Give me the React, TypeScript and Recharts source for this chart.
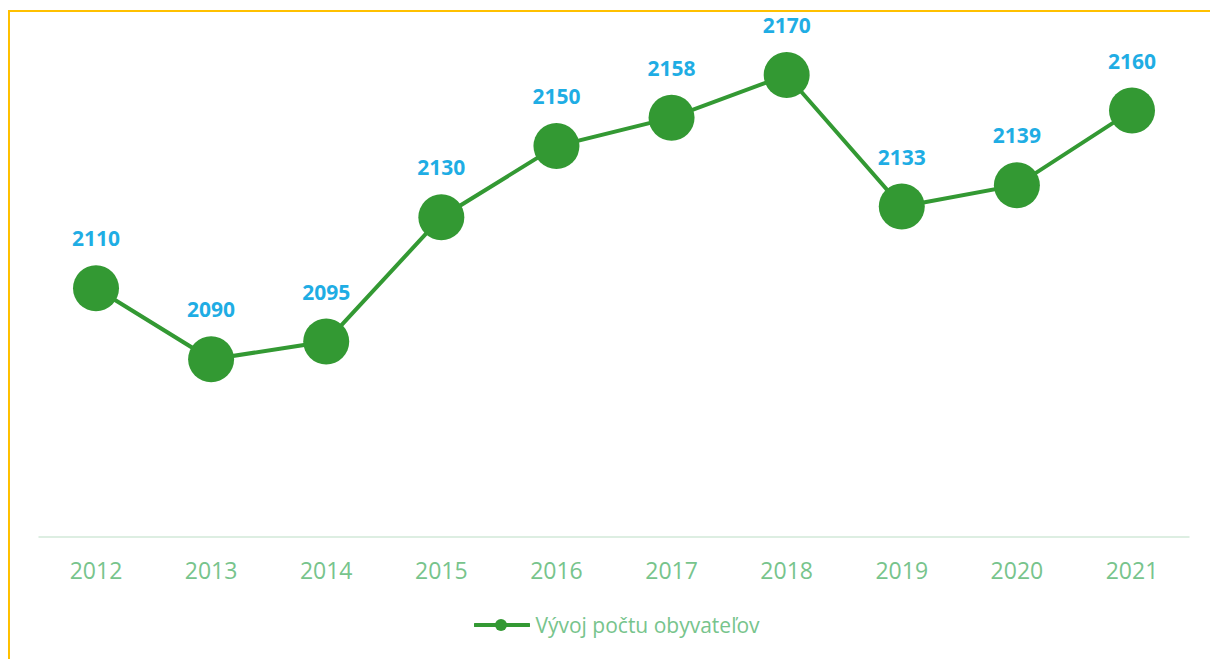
import React from 'react';
import { LineChart, Line, XAxis, YAxis, Legend, LabelList } from 'recharts';

const years = ['2012', '2013', '2014', '2015', '2016', '2017', '2018', '2019', '2020', '2021'];
const population = [2110, 2090, 2095, 2130, 2150, 2158, 2170, 2133, 2139, 2160];
const seriesName = 'Vývoj počtu obyvateľov';

const data = years.map((y, i) => ({ year: y, value: population[i] }));

const GREEN = '#339933';
const TICK = '#77C48C';
const BLUE = '#1FADE4';
const FONT = '"Open Sans", sans-serif';

const renderLabel = (props: any) => {
  const { x, y, value } = props;
  return (
    <text x={x} y={y - 42} textAnchor="middle" fill={BLUE} fontSize={21} fontWeight={700} fontFamily={FONT}>
      {value}
    </text>
  );
};

const renderLegend = () => (
  <div style={{ display: 'flex', alignItems: 'center', justifyContent: 'center', fontFamily: FONT, paddingLeft: 24 }}>
    <svg width={56} height={14} style={{ marginRight: 5 }}>
      <line x1={1} y1={7} x2={55} y2={7} stroke={GREEN} strokeWidth={4} strokeLinecap="round" />
      <circle cx={27} cy={7} r={6} fill={GREEN} />
    </svg>
    <span style={{ color: TICK, fontSize: 21, lineHeight: '28px' }}>{seriesName}</span>
  </div>
);

export default function App() {
  return (
    <div>
      <div style={{ position: 'fixed', left: 0, top: 0, width: 1210, height: 659, background: '#fff' }}>
        <LineChart
          width={1210}
          height={659}
          data={data}
          margin={{ top: 39.5, right: 20.5, left: 38.5, bottom: 62 }}
        >
          <XAxis
            dataKey="year"
            height={60}
            padding={{ left: 57.5, right: 57.5 }}
            axisLine={{ stroke: '#DDEEE2', strokeWidth: 2 }}
            tickLine={false}
            tickSize={0}
            tickMargin={26}
            tick={{ fill: TICK, fontSize: 23, fontFamily: FONT }}
            interval={0}
          />
          <YAxis hide domain={[2040, 2180]} />
          <Legend
            layout="horizontal"
            verticalAlign="middle"
            align="center"
            content={renderLegend}
            wrapperStyle={{ top: 611, left: 0, width: 1210, height: 30 }}
          />
          <Line
            type="linear"
            dataKey="value"
            name={seriesName}
            stroke={GREEN}
            strokeWidth={4}
            dot={{ r: 23, fill: GREEN, stroke: GREEN, strokeWidth: 0 }}
            activeDot={false}
            isAnimationActive={false}
          >
            <LabelList dataKey="value" content={renderLabel} />
          </Line>
        </LineChart>
      </div>
      <div
        style={{
          position: 'fixed',
          left: 8,
          top: 10,
          width: 1202,
          height: 649,
          borderTop: '2px solid #FFC000',
          borderLeft: '2px solid #FFC000',
          boxSizing: 'border-box',
          pointerEvents: 'none',
        }}
      />
    </div>
  );
}
